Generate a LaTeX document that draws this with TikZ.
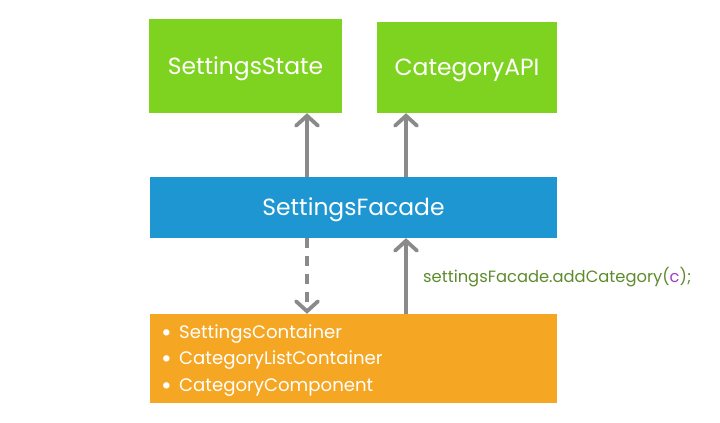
\documentclass[tikz,border=0pt]{standalone}
\usepackage{fontspec}
\setmainfont{Poppins}
\usepackage{xcolor}
\usetikzlibrary{arrows.meta, positioning, calc}
\definecolor{stategreen}{HTML}{7ED321}
\definecolor{facadeblue}{HTML}{1E96D2}
\definecolor{compsorange}{HTML}{F5A623}
\definecolor{arrowgray}{HTML}{8A8A8A}
\definecolor{codegreen}{HTML}{5E8B2E}
\definecolor{codepurple}{HTML}{A040C0}
\newcommand{\itembullet}{\makebox[18bp][l]{\fontsize{26}{27}\selectfont\raisebox{-3bp}{•}}}

\begin{document}
\begin{tikzpicture}[
  x=1bp, y=-1bp,
  box/.style={inner sep=0pt, align=center, text=white, text height=16.5bp, text depth=0pt,
              font=\fontsize{23.5}{28}\selectfont},
  store/.style={box, fill=stategreen},
  facade/.style={box, fill=facadeblue},
  comps/.style={box, fill=compsorange},
  arr/.style={-{Straight Barb[length=10bp, width=22bp, line cap=round]}, line width=3.8bp, color=arrowgray},
]
  \useasboundingbox (0,0) rectangle (720,422);

  % Stores
  \node[store, minimum width=193bp, minimum height=94bp] (state) at (245.5,66) {SettingsState};
  \node[store, minimum width=180bp, minimum height=91bp] (api) at (467,67.5) {CategoryAPI};

  % Facade
  \node[facade, minimum width=407bp, minimum height=61bp] (fac) at (353.5,207.5) {SettingsFacade};

  % Components
  \node[comps, minimum width=407bp, minimum height=89bp] (cmp) at (353.5,358.5) {};
  \node[anchor=west, align=left, text=white, inner sep=0pt,
        font=\fontsize{18.2}{27}\selectfont] (list) at (161,360.5)
    {\itembullet SettingsContainer\\\itembullet CategoryListContainer\\\itembullet CategoryComponent};

  % Arrow columns
  \coordinate (lcol) at (307,0);
  \coordinate (rcol) at (406,0);

  % Facade -> stores
  \draw[arr] (lcol |- fac.north) -- (lcol |- state.south);
  \draw[arr] (rcol |- fac.north) -- (rcol |- api.south);

  % Facade <-> components
  \draw[arr, dash pattern=on 10bp off 8bp] (lcol |- fac.south) -- (lcol |- cmp.north);
  \draw[arr] (rcol |- cmp.north) -- (rcol |- fac.south);

  \node[anchor=west, inner sep=0pt, text=codegreen, font=\fontsize{16.4}{19}\selectfont]
    (call) at (423,277) {settingsFacade.addCategory(\textcolor{codepurple}{c});};

\end{tikzpicture}
\end{document}
